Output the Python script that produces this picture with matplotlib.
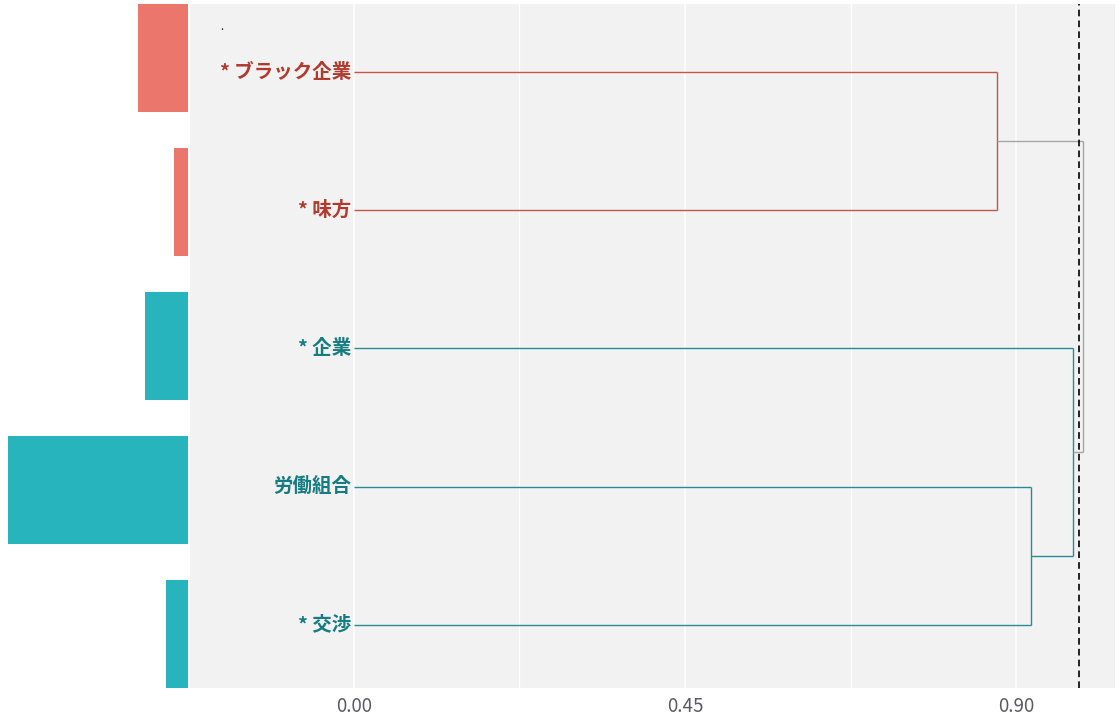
import matplotlib
matplotlib.use("Agg")
import matplotlib.pyplot as plt

plt.rcParams["font.family"] = ["Noto Sans CJK JP", "DejaVu Sans"]

# Words, their frequency and cluster membership (top to bottom)
words = ["ブラック企業", "味方", "企業", "労働組合", "交渉"]
starred = [True, True, True, False, True]
freq = [7, 2, 6, 25, 3]
cluster = [0, 0, 1, 1, 1]

# Hierarchical merges: (child_a, child_b, height); ids >= len(words) are earlier merges
merges = [(0, 1, 0.874), (3, 4, 0.920), (2, 6, 0.977), (5, 7, 0.991)]
cut_height = 0.986
x_ticks = [0.00, 0.45, 0.90]
x_minor = [0.225, 0.675]

bar_colors = ["#EB766B", "#27B4BC"]
line_colors = ["#C4574C", "#2A8C92"]
text_colors = ["#B03A2E", "#177C82"]
mixed_color = "#A6A6A6"

W, H = 1120, 716
fig = plt.figure(figsize=(W / 100, H / 100), dpi=100)
fig.patch.set_facecolor("white")

top_px, bot_px = 4, 688
# main dendrogram panel
ax = fig.add_axes([190 / W, 1 - bot_px / H, (1115 - 190) / W, (bot_px - top_px) / H])
# frequency bar panel
axb = fig.add_axes([0, 1 - bot_px / H, 188 / W, (bot_px - top_px) / H])

# --- bars ---
n = len(words)
pos = list(range(1, n + 1))
axb.barh(pos, freq, height=0.75, color=[bar_colors[c] for c in cluster],
         edgecolor="none")
axb.set_ylim(n + 0.375, 0.625)
axb.set_xlim(max(freq) * 1.0444, 0)
axb.axis("off")

# --- dendrogram ---
node_y = {i: float(pos[i]) for i in range(n)}
node_h = {i: 0.0 for i in range(n)}
node_cl = {i: {cluster[i]} for i in range(n)}
for k, (a, b, h) in enumerate(merges):
    nid = n + k
    cl = node_cl[a] | node_cl[b]
    col = line_colors[next(iter(cl))] if len(cl) == 1 else mixed_color
    for c in (a, b):
        ax.plot([node_h[c], h], [node_y[c], node_y[c]], color=col, lw=1.0,
                solid_capstyle="butt", zorder=3)
    ax.plot([h, h], [node_y[a], node_y[b]], color=col, lw=1.0,
            solid_capstyle="butt", zorder=3)
    node_y[nid] = (node_y[a] + node_y[b]) / 2
    node_h[nid] = h
    node_cl[nid] = cl

ax.axvline(cut_height, color="black", lw=1.2, ls=(0, (4, 2.5)), zorder=4)

# word labels
for i, w in enumerate(words):
    label = ("* " + w) if starred[i] else w
    ax.annotate(label, xy=(0, pos[i]), xytext=(-2, 0), textcoords="offset points",
                ha="right", va="center", fontsize=14, fontweight="bold",
                color=text_colors[cluster[i]], zorder=5)

ax.text(0.0346, 0.962, ".", transform=ax.transAxes, fontsize=8, color="#222222",
        ha="center", va="baseline")

ax.set_facecolor("#F2F2F2")
ax.set_xlim(-0.2229, 1.0345)
ax.set_ylim(5.456, 0.508)
ax.set_xticks(x_ticks)
ax.set_xticklabels([f"{t:.2f}" for t in x_ticks])
ax.set_xticks(x_minor, minor=True)
ax.set_yticks([])
ax.grid(axis="x", which="major", color="white", lw=1.1, zorder=0)
ax.grid(axis="x", which="minor", color="white", lw=0.9, zorder=0)
ax.set_axisbelow(True)
ax.tick_params(axis="x", which="both", length=0, pad=6, labelsize=13.5,
               labelcolor="#5A5A66")
for s in ax.spines.values():
    s.set_visible(False)

fig.savefig("out.png", dpi=100, facecolor="white")
